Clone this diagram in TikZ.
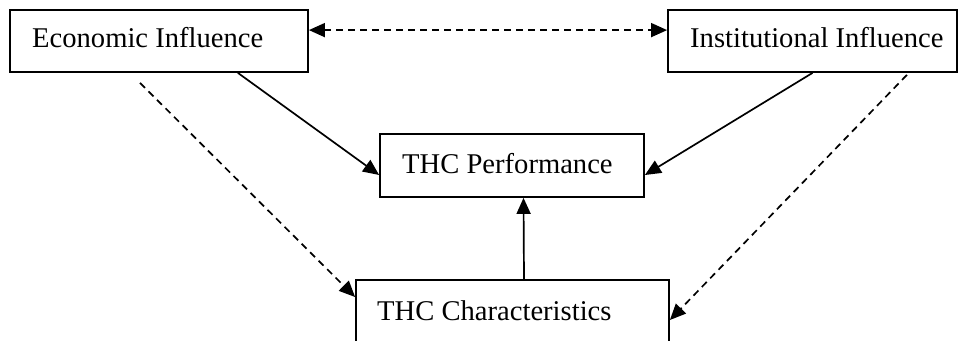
\documentclass[tikz,border=0pt]{standalone}
\usepackage{fontspec}
\setmainfont{Liberation Serif}
\usetikzlibrary{arrows.meta}
\tikzset{
  box/.style={draw, line width=1.8pt, rectangle, inner sep=0pt},
  lbl/.style={anchor=base west, inner sep=0pt, font=\fontsize{28.6}{32}\selectfont},
  tip/.tip={Triangle[length=16pt,width=14pt]},
  conn/.style={line width=1.7pt, -tip},
  dconn/.style={conn, dash pattern=on 7pt off 5pt},
}
\begin{document}
\begin{tikzpicture}[x=1pt,y=-1pt]
\useasboundingbox (0,0) rectangle (958,340);
\clip (0,0) rectangle (958,340);
\node[box, minimum width=298pt, minimum height=62pt] (eco) at (159,41) {};
\node[box, minimum width=289pt, minimum height=62pt] (inst) at (812.5,41) {};
\node[box, minimum width=264pt, minimum height=63pt] (perf) at (512,165.5) {};
\node[box, minimum width=313pt, minimum height=80pt] (char) at (512.5,320) {};
\node[lbl] (ecot) at (32,47) {Economic Influence};
\node[lbl] (instt) at (690,47) {Institutional Influence};
\node[lbl] (perft) at (402,173) {THC Performance};
\node[lbl] (chart) at (377,320) {THC Characteristics};
\draw[dconn, tip-tip] ([yshift=-21pt]eco.north east) -- ([yshift=-21pt]inst.north west);
\draw[conn] ([xshift=-71pt]eco.south east) -- ([yshift=-9.5pt]perf.west);
\draw[conn] (inst.south) -- ([yshift=-9.5pt]perf.east);
\draw[dconn] ([shift={(-19pt,-10pt)}]eco.south) -- ([yshift=23pt]char.west);
\draw[dconn] ([shift={(-51pt,-2pt)}]inst.south east) -- (char.east);
\draw[conn] ([xshift=11.5pt]char.north) -- ([xshift=11.5pt]perf.south);
\end{tikzpicture}
\end{document}
